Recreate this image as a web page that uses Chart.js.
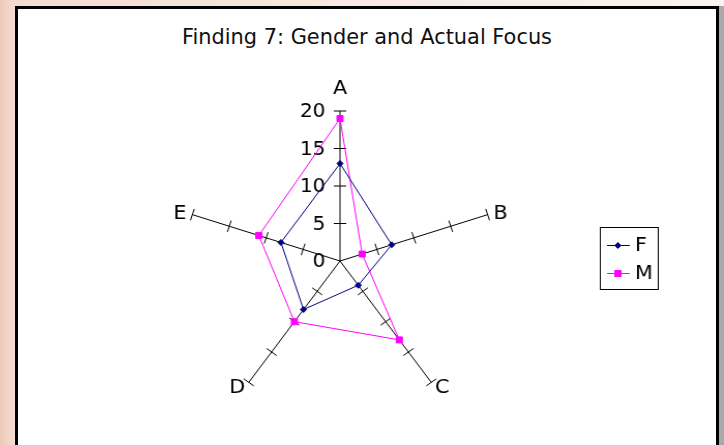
<!DOCTYPE html>
<html lang="en">
<head>
  <meta charset="UTF-8" />
  <title>Finding 7: Gender and Actual Focus</title>
  <script src="https://cdn.jsdelivr.net/npm/chart.js"></script>
  <style>
    html, body {
      margin: 0;
      width: 724px;
      height: 445px;
      overflow: hidden;
      background: linear-gradient(90deg, #ecc9b8 0px, #f3dccf 13px, #f8ece6 60%, #fbf3ef 100%);
      font-family: "DejaVu Sans", sans-serif;
    }
    .frame {
      position: absolute;
      left: 15px;
      top: 6px;
      width: 698px;
      height: 500px;
      background: #fff;
      border: 3px solid #000;
      box-shadow: 5px 0 0 #a9a9a9;
    }
    .title {
      position: absolute;
      left: 15px;
      width: 704px;
      top: 25px;
      line-height: 24px;
      text-align: center;
      font-size: 20.9px;
      color: #111;
    }
    #radar {
      position: absolute;
      left: 0;
      top: 0;
      transform: scaleX(1.035);
      transform-origin: 340px 0;
    }
  </style>
</head>
<body>

<div class="frame"></div>
<div class="title">Finding 7: Gender and Actual Focus</div>
<canvas id="radar" width="724" height="445"></canvas>

<script>
// data
const categories = ["A", "B", "C", "D", "E"];
const seriesF = [13, 7, 4, 8, 8];
const seriesM = [19, 3, 13, 10, 11];
const tickValues = [0, 5, 10, 15, 20];

// axis tick marks, value labels and category labels drawn off the radial scale
const axisDecor = {
  id: "axisDecor",
  beforeDatasetsDraw(chart) {
    const scale = chart.scales.r;
    const ctx = chart.ctx;
    const r = scale.drawingArea;
    ctx.save();
    ctx.strokeStyle = "#000";
    ctx.lineWidth = 1;

    // small cross ticks on every spoke
    categories.forEach((c, i) => {
      tickValues.forEach(v => {
        if (v === 0) return;
        const p = scale.getPointPosition(i, scale.getDistanceFromCenterForValue(v));
        const nx = -Math.sin(p.angle), ny = Math.cos(p.angle);
        ctx.beginPath();
        ctx.moveTo(p.x - nx * 6, p.y - ny * 6);
        ctx.lineTo(p.x + nx * 6, p.y + ny * 6);
        ctx.stroke();
      });
    });

    // value labels left of the A spoke
    ctx.fillStyle = "#000";
    ctx.font = '19.5px "DejaVu Sans"';
    ctx.textAlign = "right";
    ctx.textBaseline = "middle";
    tickValues.forEach(v => {
      const d = scale.getDistanceFromCenterForValue(v);
      ctx.fillText(String(v), scale.xCenter - 14, scale.yCenter - d + 1);
    });

    // category labels
    ctx.font = '20px "DejaVu Sans"';
    categories.forEach((c, i) => {
      if (i === 0) {
        const p = scale.getPointPosition(i, r + 17);
        ctx.textAlign = "center";
        ctx.textBaseline = "alphabetic";
        ctx.fillText(c, p.x, p.y);
        return;
      }
      const p = scale.getPointPosition(i, r + 6);
      ctx.textAlign = Math.cos(p.angle) > 0 ? "left" : "right";
      ctx.textBaseline = "middle";
      ctx.fillText(c, p.x, p.y + 1);
    });
    ctx.restore();
  }
};

// boxed legend on the right
const boxLegend = {
  id: "boxLegend",
  afterDraw(chart) {
    const ctx = chart.ctx;
    const x0 = 591, y0 = 227, w = 56, h = 62;
    ctx.save();
    ctx.strokeStyle = "#000";
    ctx.lineWidth = 1;
    ctx.strokeRect(x0 + 0.5, y0 + 0.5, w, h);
    chart.data.datasets.forEach((ds, i) => {
      const y = y0 + 18 + i * 28;
      ctx.strokeStyle = ds.borderColor;
      ctx.beginPath();
      ctx.moveTo(x0 + 7, y + 0.5);
      ctx.lineTo(x0 + 29, y + 0.5);
      ctx.stroke();
      Chart.helpers.drawPoint(ctx, {
        pointStyle: ds.pointStyle,
        radius: ds.pointRadius,
        borderWidth: 1,
        rotation: 0
      }, x0 + 17.5, y + 0.5);
      ctx.fillStyle = ds.borderColor;
      ctx.fill();
      ctx.fillStyle = "#000";
      ctx.font = '20px "DejaVu Sans"';
      ctx.textAlign = "left";
      ctx.textBaseline = "middle";
      ctx.fillText(ds.label, x0 + 34, y + 1);
    });
    ctx.restore();
  }
};

const ctx = document.getElementById("radar").getContext("2d");
new Chart(ctx, {
  type: "radar",
  data: {
    labels: categories,
    datasets: [
      {
        label: "F",
        data: seriesF,
        borderColor: "#000080",
        backgroundColor: "#000080",
        borderWidth: 1,
        fill: false,
        pointStyle: "rectRot",
        pointRadius: 3,
        pointBorderWidth: 1,
        pointBackgroundColor: "#000080"
      },
      {
        label: "M",
        data: seriesM,
        borderColor: "#ff00ff",
        backgroundColor: "#ff00ff",
        borderWidth: 1,
        fill: false,
        pointStyle: "rect",
        pointRadius: 4.2,
        pointBorderWidth: 1,
        pointBackgroundColor: "#ff00ff"
      }
    ]
  },
  options: {
    responsive: false,
    animation: false,
    layout: {
      padding: { left: 190, right: 234, top: 111, bottom: 34 }
    },
    plugins: {
      legend: { display: false },
      title: { display: false },
      tooltip: { enabled: false }
    },
    scales: {
      r: {
        min: 0,
        max: 20,
        ticks: { display: false, stepSize: 5 },
        grid: { display: false },
        angleLines: { display: true, color: "#000", lineWidth: 1 },
        pointLabels: { display: false }
      }
    }
  },
  plugins: [axisDecor, boxLegend]
});
</script>
</body>
</html>
